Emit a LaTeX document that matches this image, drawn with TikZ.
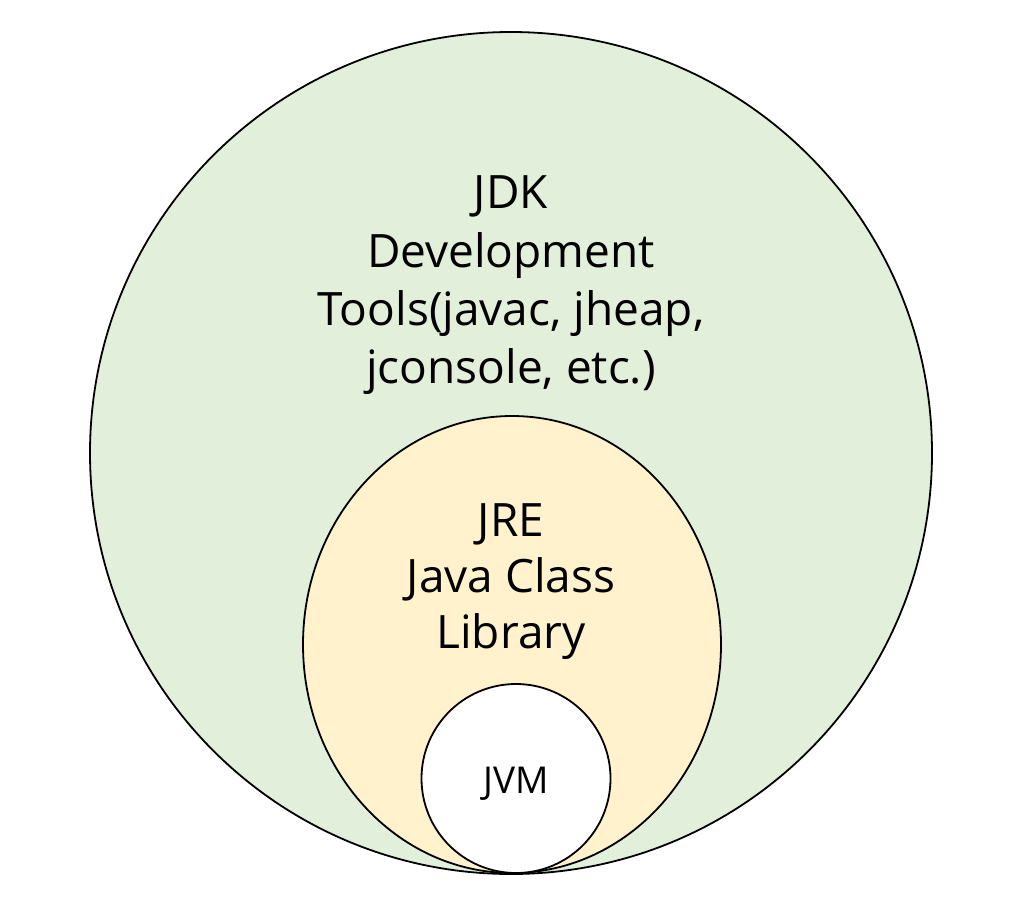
\documentclass[tikz,border=0pt]{standalone}
\usepackage{fontspec}
\setmainfont{Open Sans}
\definecolor{jdkgreen}{HTML}{E2EFDA}
\definecolor{jreyellow}{HTML}{FFF2CC}
\begin{document}
\begin{tikzpicture}[x=1pt,y=-1pt,
  ring/.style={draw=black,line width=1.8pt},
  bigtext/.style={font=\fontsize{46}{58}\selectfont,align=center,anchor=base,inner sep=0pt},
  smalltext/.style={font=\fontsize{37}{42}\selectfont,anchor=base,inner sep=0pt}]
\useasboundingbox (0,0) rectangle (1030,916);
\fill[white] (0,0) rectangle (1030,916);
\draw[ring,fill=jdkgreen] (511,453) circle [radius=421];
\draw[ring,fill=jreyellow] (512,644.5) ellipse [x radius=209, y radius=228.5];
\draw[ring,fill=white] (516,778.5) circle [radius=94.5];
\node[bigtext] (jdk) at (511,208) {JDK};
\node[bigtext] (jdk2) at (511,267) {Development};
\node[bigtext] (jdk3) at (511,325) {Tools(javac, jheap,};
\node[bigtext] (jdk4) at (511,383) {jconsole, etc.)};
\node[bigtext] (jre) at (511,536) {JRE};
\node[bigtext] (jre2) at (511,592) {Java Class};
\node[bigtext] (jre3) at (511,648) {Library};
\node[smalltext] (jvm) at (516,793) {JVM};
\end{tikzpicture}
\end{document}
